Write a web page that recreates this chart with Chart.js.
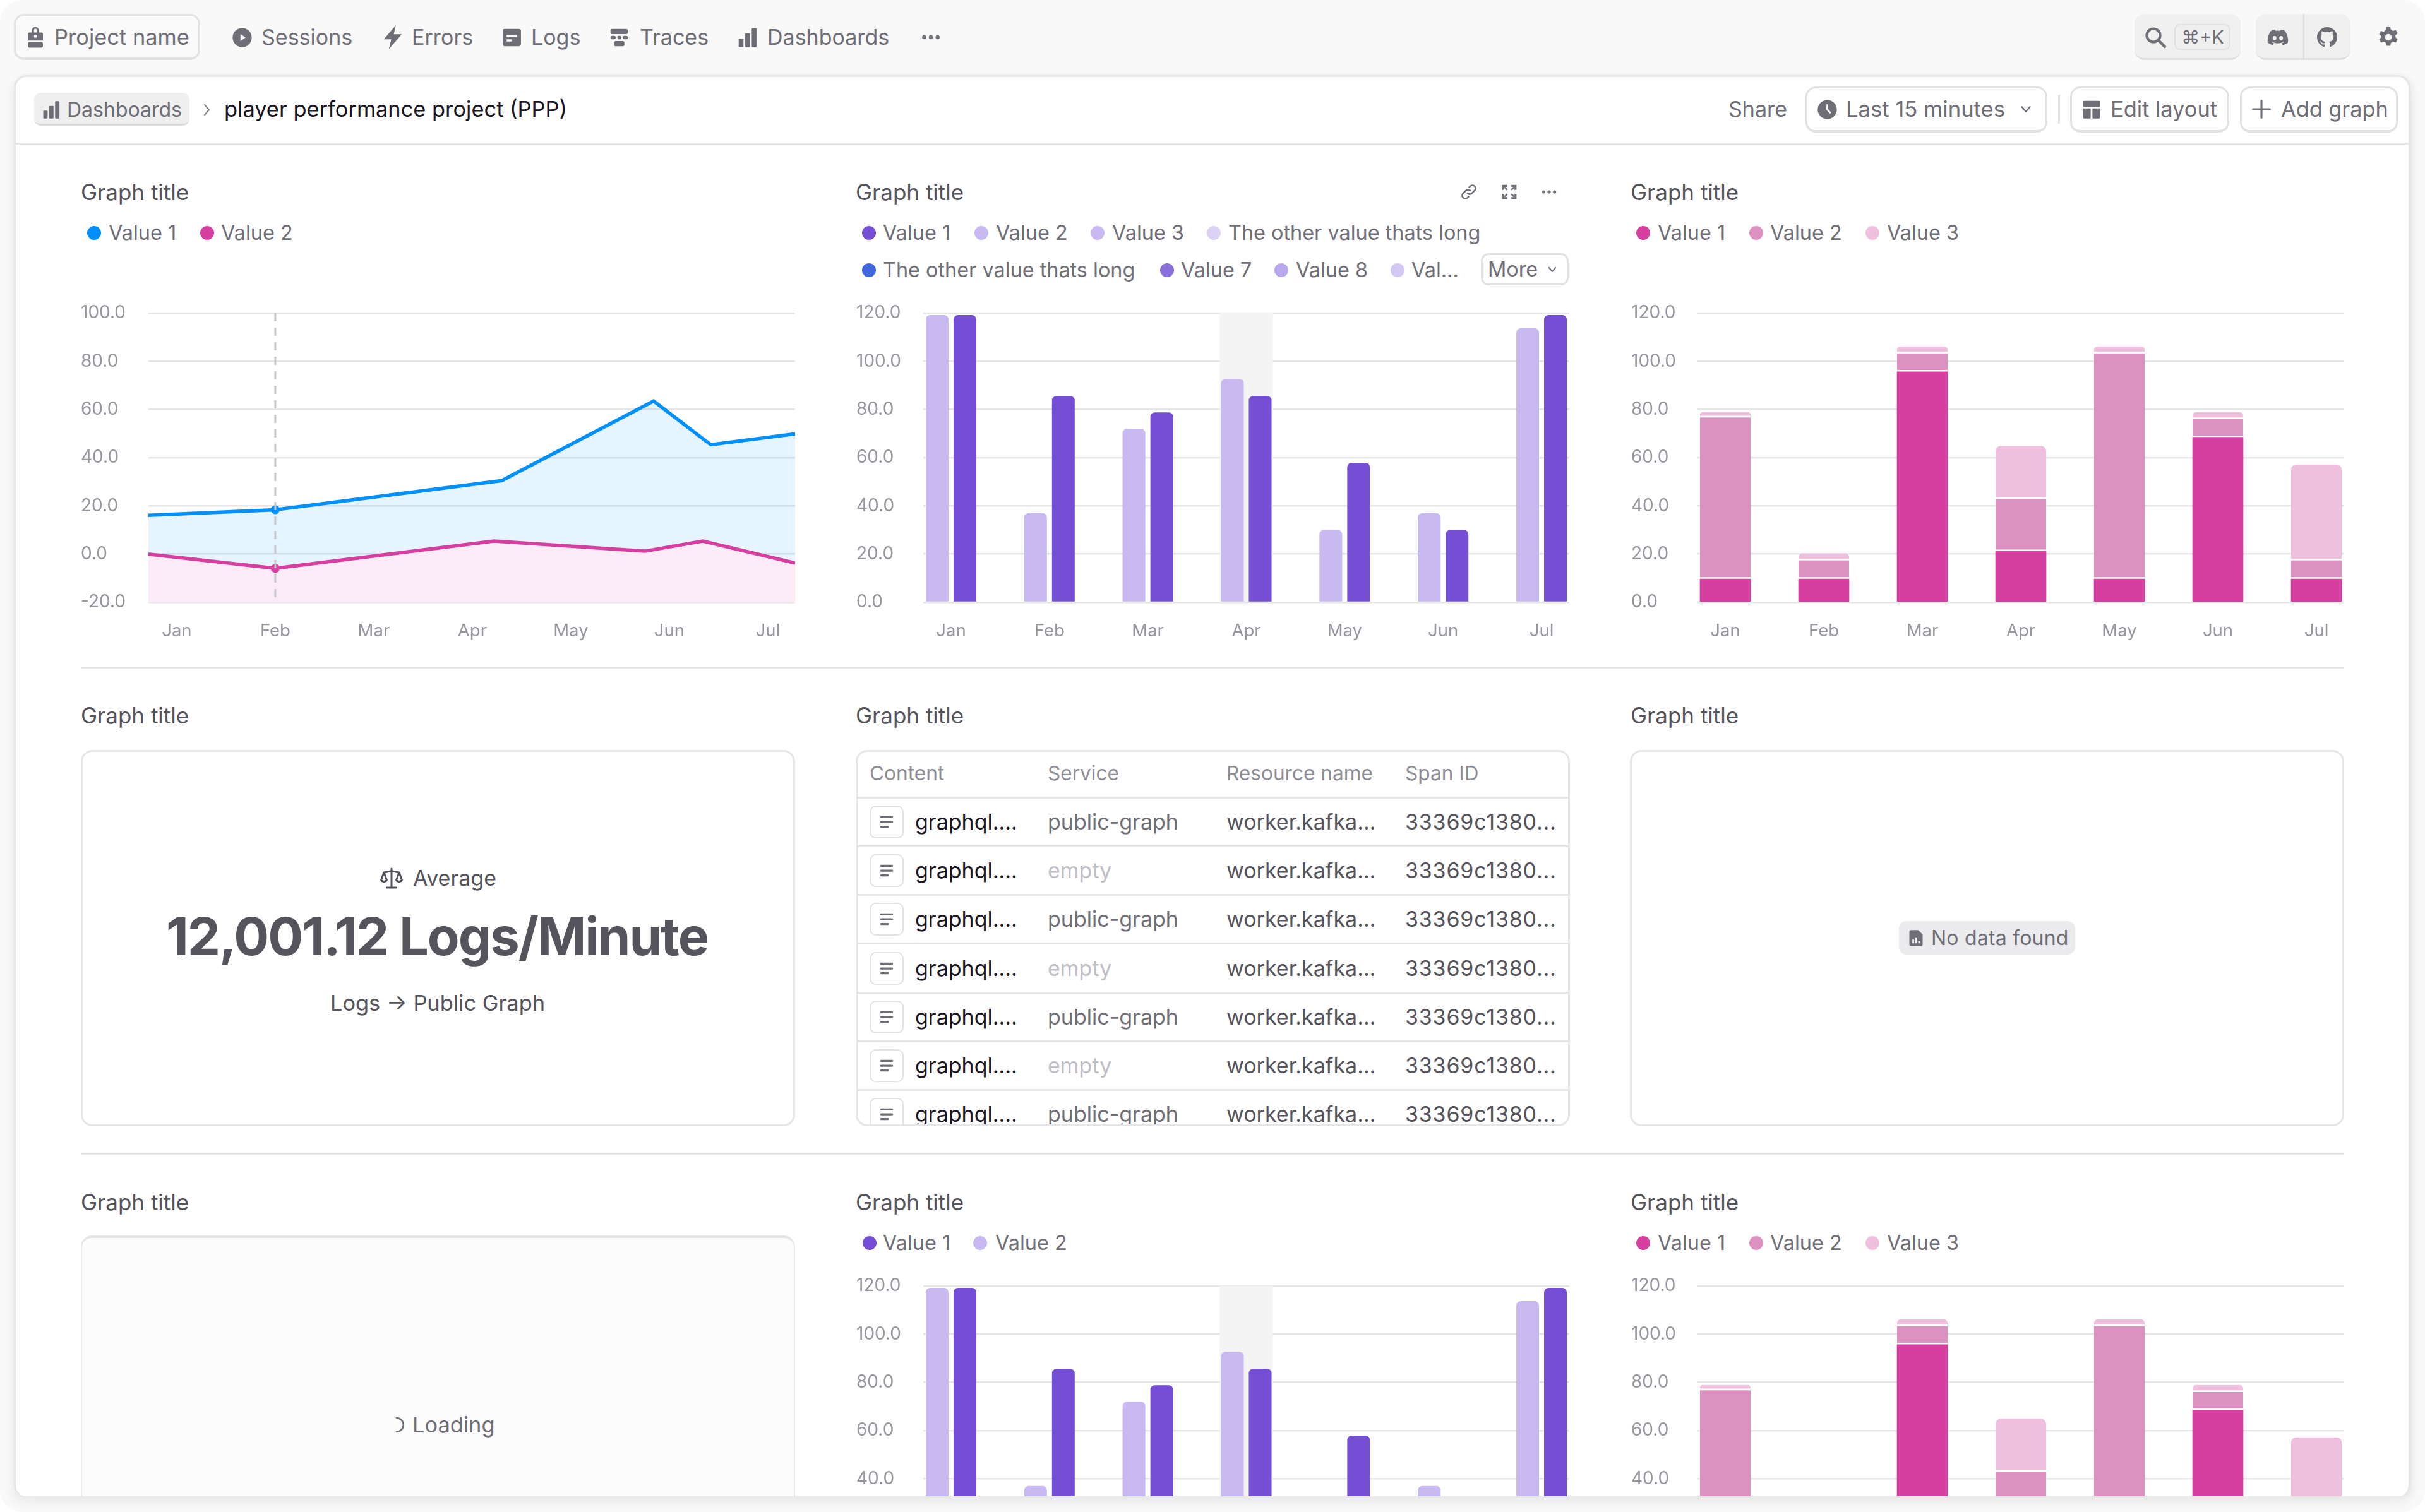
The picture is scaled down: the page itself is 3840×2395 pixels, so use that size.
<!DOCTYPE html>
<html><head><meta charset="utf-8">
<script src="https://cdn.jsdelivr.net/npm/chart.js@4"></script>
<style>
html,body{margin:0;padding:0;width:3840px;height:2395px;background:#fff;overflow:hidden;font-family:Inter,"Noto Sans",sans-serif}
.a{position:absolute;box-sizing:border-box}
.t{position:absolute;white-space:nowrap;transform:translateY(-50%);line-height:1.2}
canvas{position:absolute;display:block}
svg{position:absolute;overflow:visible}
</style></head><body>
<div id="root" class="a" style="left:0;top:0;width:3840px;height:2395px"></div>
<script>
// ---------- data ----------
const categories=['Jan','Feb','Mar','Apr','May','Jun','Jul'];
const lineTicks=[-20,0,20,40,60,80,100];
const barTicks=[0,20,40,60,80,100,120];
const blueX=[-0.288,1,3.30,4.84,5.42,6.276];
const blueY=[16.1,18.4,30.5,63.5,45.4,49.9];
const pinkX=[-0.288,1,3.22,4.75,5.34,6.276];
const pinkY=[0,-5.9,5.4,1.2,5.4,-3.7];
const purpleLight=[119.2,37,72,92.7,30,37,113.7];
const purpleDark=[119.2,85.6,78.8,85.6,57.9,30,119.2];
const stackA=[9.7,9.7,95.7,21.2,9.7,68.5,9.7];
const stackB=[67,7.7,7.6,21.8,93.6,7.5,7.7];
const stackC=[2.2,2.9,2.9,21.9,2.9,2.9,39.8];
const tableHead=['Content','Service','Resource name','Span ID'];
const tableService=['public-graph','empty','public-graph','empty','public-graph','empty','public-graph'];
const navItems=['Sessions','Errors','Logs','Traces','Dashboards'];

// ---------- palette ----------
const C={grid:'#e6e6e8',tick:'#96969e',nav:'#6f6e77',title:'#55545c',black:'#1a1523',border:'#e4e4e6',
 blue:'#0090ff',pink:'#d63f9f',pinkMid:'#dc92c0',pinkLight:'#eec0de',purple:'#744ed4',purpleL:'#c8b9f1'};

// ---------- DOM helpers ----------
const root=document.getElementById('root');
let cur={el:root,ox:0,oy:0};
function box(x,y,w,h,css){const d=document.createElement('div');d.className='a';
 d.style.cssText=`left:${x-cur.ox}px;top:${y-cur.oy}px;width:${w}px;height:${h}px;`+(css||'');cur.el.appendChild(d);return d;}
function txt(s,x,y,size,color,opt){opt=opt||{};const d=document.createElement('span');d.className='t';d.textContent=s;
 let st=`left:${x-cur.ox}px;top:${y-cur.oy}px;font-size:${size}px;color:${color};font-weight:${opt.w||400};`;
 if(opt.c)st+='transform:translate(-50%,-50%);';
 if(opt.ls)st+=`letter-spacing:${opt.ls}px;`;
 d.style.cssText=st;cur.el.appendChild(d);return d;}
function within(el,ox,oy,fn){const p=cur;cur={el,ox,oy};fn();cur=p;}
function icon(inner,cx,cy,size,color,vb){const ns='http://www.w3.org/2000/svg';const s=document.createElementNS(ns,'svg');
 s.setAttribute('viewBox',vb||'0 0 24 24');s.setAttribute('width',size);s.setAttribute('height',size);
 s.style.left=(cx-size/2-cur.ox)+'px';s.style.top=(cy-size/2-cur.oy)+'px';s.style.color=color;
 s.innerHTML=inner;cur.el.appendChild(s);return s;}
const I={
 brief:'<path fill="currentColor" d="M8.500 7V4.500a3.500 3.500 0 0 1 7 0V7h2.500a2 2 0 0 1 2 2v6.500H4V9a2 2 0 0 1 2-2zm2 0h3V4.500a1.500 1.500 0 0 0-3 0z"/><circle cx="12" cy="11" r="1.600" fill="#fafafa"/><rect x="4" y="17" width="16" height="6" rx="2" fill="currentColor"/>',
 play:'<path fill="currentColor" fill-rule="evenodd" d="M12 1a11 11 0 1 0 0 22 11 11 0 0 0 0-22zM10 8l6 4-6 4z"/>',
 bolt:'<path fill="currentColor" d="M15 0 3 14h7.500L8 24l13-15h-8z"/>',
 logs:'<path fill="currentColor" fill-rule="evenodd" d="M4 2h16a2.500 2.500 0 0 1 2.500 2.500v15A2.500 2.500 0 0 1 20 22H4a2.500 2.500 0 0 1-2.500-2.500v-15A2.500 2.500 0 0 1 4 2zm2 7v2.500h12V9zm0 5v2.500h6V14z"/>',
 traces:'<rect x="2" y="2" width="20" height="6" rx="2" fill="currentColor"/><rect x="2" y="10" width="6" height="4" rx="2" fill="currentColor"/><rect x="10" y="10" width="4" height="4" rx="1" fill="currentColor"/><rect x="16" y="10" width="6" height="4" rx="2" fill="currentColor"/><rect x="6" y="16" width="12" height="6" rx="2" fill="currentColor"/>',
 bars:'<rect x="2" y="13" width="5.500" height="10" rx="1" fill="currentColor"/><rect x="9.500" y="7" width="5.500" height="16" rx="1" fill="currentColor"/><rect x="17" y="1" width="5.500" height="22" rx="1" fill="currentColor"/>',
 dots:'<circle cx="4" cy="12" r="2.400" fill="currentColor"/><circle cx="12" cy="12" r="2.400" fill="currentColor"/><circle cx="20" cy="12" r="2.400" fill="currentColor"/>',
 chevR:'<path fill="none" stroke="currentColor" stroke-width="2" stroke-linecap="round" stroke-linejoin="round" d="M9 4l7 8-7 8"/>',
 chevD:'<path fill="none" stroke="currentColor" stroke-width="2.600" stroke-linecap="round" stroke-linejoin="round" d="M5 8l7 8 7-8"/>',
 search:'<circle cx="10" cy="10" r="7" fill="none" stroke="currentColor" stroke-width="2.800"/><path d="M15.500 15.500 22 22" stroke="currentColor" stroke-width="3" stroke-linecap="round"/>',
 clock:'<path fill="currentColor" fill-rule="evenodd" d="M12 1a11 11 0 1 0 0 22 11 11 0 0 0 0-22zM11 6h2v5.500l3.500 4-1.500 1.400-4-4.500z"/>',
 layout:'<rect x="2" y="2" width="20" height="7" rx="1" fill="currentColor"/><rect x="2" y="11" width="9" height="12" rx="1" fill="currentColor"/><rect x="13" y="11" width="9" height="12" rx="1" fill="currentColor"/>',
 plus:'<path d="M12 2v20M2 12h20" stroke="currentColor" stroke-width="2.400" stroke-linecap="round"/>',
 discord:'<path fill="currentColor" fill-rule="evenodd" d="M19.500 5.300A18 18 0 0 0 15 4l-.6 1.200a16 16 0 0 0-4.800 0L9 4a18 18 0 0 0-4.500 1.300C1.700 9.500.9 13.600 1.300 17.600A18 18 0 0 0 6.800 20.400l1.200-1.900-1.800-.9.400-.4a12.800 12.800 0 0 0 10.800 0l.4.4-1.800.9 1.200 1.900a18 18 0 0 0 5.500-2.800c.5-4.600-.7-8.700-3.200-12.300zM8.500 15a2 2.200 0 1 1 0-4.400 2 2.200 0 0 1 0 4.400zm7 0a2 2.200 0 1 1 0-4.400 2 2.200 0 0 1 0 4.400z"/>',
 github:'<path fill="currentColor" fill-rule="evenodd" d="M8 0C3.580 0 0 3.580 0 8c0 3.540 2.290 6.530 5.470 7.590.4.070.550-.170.550-.380 0-.190-.010-.820-.010-1.490-2.010.370-2.530-.490-2.690-.940-.090-.230-.480-.940-.820-1.130-.280-.150-.680-.520-.010-.530.630-.010 1.080.580 1.230.820.720 1.210 1.870.870 2.330.660.070-.520.280-.870.510-1.070-1.780-.200-3.640-.890-3.640-3.950 0-.870.310-1.590.820-2.150-.080-.200-.360-1.020.080-2.120 0 0 .670-.210 2.200.820.640-.180 1.320-.270 2-.270.680 0 1.360.090 2 .270 1.530-1.040 2.200-.820 2.200-.820.440 1.100.160 1.920.080 2.120.510.560.820 1.270.820 2.150 0 3.070-1.870 3.750-3.650 3.950.290.250.540.730.540 1.480 0 1.070-.010 1.930-.010 2.200 0 .210.150.460.550.380A8.013 8.013 0 0 0 16 8c0-4.420-3.580-8-8-8z"/>',
 gear:'<path fill="currentColor" fill-rule="evenodd" d="M10 1h4l.6 3 2.300 1.300 2.900-1 2 3.500-2.300 2 .1 2.400 2.200 2-2 3.500-2.900-1-2.300 1.300-.6 3h-4l-.6-3-2.300-1.300-2.900 1-2-3.500 2.300-2V10.800l-2.300-2 2-3.500 2.900 1L9.400 4zM12 8.500a3.500 3.500 0 1 0 0 7 3.500 3.500 0 0 0 0-7z"/>',
 link:'<path fill="none" stroke="currentColor" stroke-width="2.400" stroke-linecap="round" d="M10 14a4.500 4.500 0 0 0 6.400 0l4-4A4.500 4.500 0 0 0 14 3.600l-1.500 1.500M14 10a4.500 4.500 0 0 0-6.400 0l-4 4A4.500 4.500 0 0 0 10 20.400l1.500-1.500"/>',
 expand:'<path fill="none" stroke="currentColor" stroke-width="3" d="M3 9V3h6M15 3h6v6M21 15v6h-6M9 21H3v-6"/><path d="M5 5l4 4M19 5l-4 4M19 19l-4-4M5 19l4-4" stroke="currentColor" stroke-width="2.400"/>',
 scale:'<path fill="none" stroke="currentColor" stroke-width="2" stroke-linecap="round" stroke-linejoin="round" d="M12 2v19M7 22h10M4 6l8-1.500L20 6M4 6l-3 8a3.500 3.500 0 0 0 6 0zM20 6l-3 8a3.500 3.500 0 0 0 6 0z"/>',
 file:'<path fill="currentColor" fill-rule="evenodd" d="M5 1h10l6 6v14a2 2 0 0 1-2 2H5a2 2 0 0 1-2-2V3a2 2 0 0 1 2-2zm2 13v5h2.500v-5zm4-3v8h2.500v-8zm4 5v3h2.500v-3z"/>',
 lines:'<path d="M4 5h16M4 12h16M4 19h10" stroke="currentColor" stroke-width="3" stroke-linecap="round"/>',
 spin:'<path fill="none" stroke="currentColor" stroke-width="2.400" stroke-linecap="round" d="M12 2a10 10 0 0 1 0 20"/>'
};

// ---------- shell ----------
box(0,0,3840,2395,'background:#f9f9f9;border-radius:34px');
// nav
box(22,22,295,73,'background:#fafafa;border:3px solid #e2e2e4;border-bottom-width:4px;border-radius:16px');
icon(I.brief,56,59,36,C.nav);
txt('Project name',86,59,34.4,C.nav);
const navX=[414,652,841,1013,1215],navIcon=[[383,I.play],[622,I.bolt],[810,I.logs],[980,I.traces],[1183,I.bars]];
navItems.forEach((n,i)=>{icon(navIcon[i][1],navIcon[i][0],59,i===1?38:33,C.nav);txt(n,navX[i],59,34,C.nav);});
icon(I.dots,1474,59,32,C.nav);
box(3380,22,168,73,'background:#f0f0f1;border-bottom:3px solid #dcdcde;border-radius:16px');
icon(I.search,3413,59,36,C.nav);
box(3443,38,89,41,'border:2.500px solid #e0e0e2;border-radius:9px;background:#efeff0');
txt('⌘+K',3488,59,29,C.nav,{c:1});
box(3572,22,150,73,'background:#f0f0f1;border-bottom:3px solid #dcdcde;border-radius:16px');
box(3647,22,2,73,'background:#dcdcde');
icon(I.discord,3607,59,36,C.nav);
icon(I.github,3685,59,32,C.nav,'0 0 16 16');
icon(I.gear,3782,59,36,C.nav);
// frame
box(22,119,3795,2251,'background:#fff;border:3px solid #e6e6e8;border-bottom:none;border-radius:20px 20px 18px 18px;box-shadow:0 8px 18px rgba(40,40,60,.09),3px 0 8px rgba(40,40,60,.03)');
const clip=box(0,0,3840,2370,'overflow:hidden');
cur={el:clip,ox:0,oy:0};
// header
box(25,226,3789,3,'background:#e6e6e8');
box(54,147,246,52,'background:#efeff0;border-bottom:3px solid #dcdcde;border-radius:10px');
icon(I.bars,81,174,30,C.nav);
txt('Dashboards',106,174,32,C.nav);
icon(I.chevR,327,174,24,'#85848c');
txt('player performance project (PPP)',355,173,34.4,C.black);
txt('Share',2737,173,34,C.nav);
function btn(x,w){box(x,137,w,73,'background:#fff;border:3px solid #e2e2e4;border-bottom-width:4px;border-radius:16px');}
btn(2859,383);icon(I.clock,2893,173,33,C.nav);txt('Last 15 minutes',2923,173,34.6,C.nav);icon(I.chevD,3208,173,22,C.nav);
box(3259,150,3,46,'background:#e4e4e6');
btn(3278,252);icon(I.layout,3312,173,32,C.nav);txt('Edit layout',3342,173,34.4,C.nav);
btn(3547,250);icon(I.plus,3581,173,32,C.nav);txt('Add graph',3612,173,34.3,C.nav);
// dividers
box(128,1056,3584,3,'background:#e6e6e8');
box(128,1827,3584,3,'background:#e6e6e8');
// titles
[[128,304],[1355,304],[2582,304],[128,1133],[1355,1133],[2582,1133],[128,1904],[1355,1904],[2582,1904]].forEach(p=>txt('Graph title',p[0],p[1],35,C.title));
// legends
function leg(items,y){items.forEach(it=>{const d=box(it[0]-11,y-11,22,22,`background:${it[2]};border-radius:50%`);txt(it[3],it[1],y,32.4,'#706f78');});}
leg([[149,172,C.blue,'Value 1'],[327.5,350,C.pink,'Value 2']],369);
leg([[1376,1398,C.purple,'Value 1'],[1554,1577,C.purpleL,'Value 2'],[1738,1761,C.purpleL,'Value 3'],[1922,1945,'#dcd2f6','The other value thats long']],369);
leg([[1376,1398,'#4266e0','The other value thats long'],[1848,1870,'#8a70dc','Value 7'],[2029,2052,'#b9a8ee','Value 8'],[2213,2235,'#d3c8f4','Val...']],428);
leg([[2602,2625,C.pink,'Value 1'],[2781,2803,C.pinkMid,'Value 2'],[2965,2988,C.pinkLight,'Value 3']],369);
leg([[1377,1398,C.purple,'Value 1'],[1552,1576,C.purpleL,'Value 2']],1969);
leg([[2602,2625,C.pink,'Value 1'],[2781,2803,C.pinkMid,'Value 2'],[2965,2988,C.pinkLight,'Value 3']],1969);
box(2345,401,139,51,'background:#fff;border:3px solid #e2e2e4;border-radius:12px');
txt('More',2356,427,32.4,'#706f78');icon(I.chevD,2458,427,18,C.nav);
icon(I.link,2326,304,26,C.nav);icon(I.expand,2390,304,26,C.nav);icon(I.dots,2453,304,26,C.nav);
// metric card
const card='border:3px solid #e6e6e8;border-radius:18px;';
box(128,1188,1131,596,card+'background:#fff');
icon(I.scale,620,1391,36,C.title);
txt('Average',654,1391,34,C.title);
txt('12,001.12 Logs/Minute',692,1484,83,C.title,{c:1,w:700,ls:-2});
txt('Logs → Public Graph',693,1589,34.4,C.title,{c:1});
// table
const tb=box(1355,1188,1131,596,card+'background:#fff;overflow:hidden');
within(tb,1358,1191,()=>{
 const colX=[1377,1659,1942,2225];
 tableHead.forEach((h,i)=>txt(h,colX[i],1225,31.6,'#8e8d96'));
 box(1355,1262,1131,3,'background:#e6e6e8');
 const rowY=[1302,1379,1456,1534,1611,1688,1765];
 rowY.forEach((y,i)=>{
  box(1377,y-26,54,52,'border:2.500px solid #e2e2e4;border-radius:10px;background:#fff');
  icon(I.lines,1404,y,26,C.nav);
  txt('graphql....',1449,y,34,C.black);
  txt(tableService[i],1659,y,34,tableService[i]==='empty'?'#c0bfc5':'#6f6e77');
  txt('worker.kafka...',1942,y,34,'#55545c');
  txt('33369c1380...',2225,y,34,'#55545c',{ls:.8});
  if(i<6)box(1355,y+37,1131,3,'background:#e6e6e8');
 });
});
// empty card
box(2581,1188,1131,596,card+'background:#fff');
box(3007,1459,279,53,'background:#ebebed;border-radius:12px');
icon(I.file,3034,1486,28,C.nav);
txt('No data found',3058,1486,32,'#6f6e77',{ls:.2});
// loading card
box(128,1957,1131,700,'border:2px solid #e6e6e8;border-top:4px solid #e6e6e8;border-radius:18px;background:#fcfcfc');
icon(I.spin,628,2257,26,C.nav);
txt('Loading',653,2257,34.4,C.nav);

// ---------- charts ----------
const XMIN=-0.282,XMAX=6.282;
const hold=document.createElement('div');
clip.appendChild(hold);
function xScale(){return{type:'linear',min:XMIN,max:XMAX,offset:false,bounds:'data',
 afterBuildTicks:s=>{s.ticks=categories.map((c,i)=>({value:i}));},
 afterFit:s=>{s.height=66;s.paddingLeft=0;s.paddingRight=0;},
 grid:{display:false,offset:false,drawTicks:false},border:{display:false},
 ticks:{autoSkip:false,maxRotation:0,padding:29,font:{family:'Inter',size:27.5},color:C.tick,callback:v=>categories[v]}};}
function yScale(ticks,w,stacked){return{min:ticks[0],max:ticks[ticks.length-1],stacked:!!stacked,
 afterFit:s=>{s.width=w;},
 afterBuildTicks:s=>{s.ticks=ticks.map(v=>({value:v}));},
 grid:{color:C.grid,lineWidth:2.5,drawTicks:false},border:{display:false},
 ticks:{crossAlign:'far',font:{family:'Inter',size:28},color:C.tick,callback:v=>Number(v).toFixed(1)}};}
function mount(x,y,w,h,cfg){const c=document.createElement('canvas');c.width=w;c.height=h;
 c.style.cssText=`left:${x}px;top:${y}px;width:${w}px;height:${h}px`;hold.appendChild(c);
 cfg.options=Object.assign({responsive:false,animation:false,devicePixelRatio:1,
  layout:{padding:{top:26,left:0,right:0,bottom:0}},
  plugins:{legend:{display:false},tooltip:{enabled:false}}},cfg.options);
 return new Chart(c,cfg);}
const hoverBand={id:'hoverBand',beforeDatasetsDraw(ch){const s=ch.scales.x,p=s.getPixelForValue(3),a=ch.chartArea,g=ch.ctx;
 g.save();g.fillStyle='#f4f4f4';g.fillRect(p-42,a.top,84,a.bottom-a.top);g.restore();}};
const crosshair={id:'crosshair',afterDatasetsDraw(ch){const p=ch.scales.x.getPixelForValue(1),a=ch.chartArea,g=ch.ctx;
 g.save();g.strokeStyle='#c6c6ca';g.lineWidth=3;g.setLineDash([13,10]);g.beginPath();g.moveTo(p,a.top);g.lineTo(p,a.bottom);g.stroke();g.restore();}};
const pts=(xs,ys)=>ys.map((y,i)=>({x:xs[i],y}));
const seq=ys=>ys.map((y,i)=>({x:i,y}));
function purpleChart(x,y){return mount(x,y,1129,550,{type:'bar',plugins:[hoverBand],
 data:{datasets:[
  {label:'Value 2',data:seq(purpleLight),backgroundColor:C.purpleL,borderRadius:{topLeft:7,topRight:7},borderSkipped:'bottom'},
  {label:'Value 1',data:seq(purpleDark),backgroundColor:C.purple,borderRadius:{topLeft:7,topRight:7},borderSkipped:'bottom'}]},
 options:{datasets:{bar:{categoryPercentage:.5645,barPercentage:.818}},scales:{x:xScale(),y:yScale(barTicks,106)}}});}
function pinkChart(x,y){const sep={top:0,left:0,right:0,bottom:3};return mount(x,y,1129,550,{type:'bar',
 data:{datasets:[
  {label:'Value 1',data:seq(stackA),backgroundColor:C.pink,borderWidth:0},
  {label:'Value 2',data:seq(stackB),backgroundColor:C.pinkMid,borderColor:'#fff',borderWidth:sep,borderSkipped:false},
  {label:'Value 3',data:seq(stackC),backgroundColor:C.pinkLight,borderColor:'#fff',borderWidth:sep,borderSkipped:false,borderRadius:{topLeft:8,topRight:8}}]},
 options:{datasets:{bar:{barThickness:80}},scales:{x:Object.assign(xScale(),{stacked:true}),y:yScale(barTicks,105,true)}}});}
// line chart
mount(128,470,1131,550,{type:'line',plugins:[crosshair],
 data:{datasets:[
  {label:'Value 2',order:0,data:pts(pinkX,pinkY),borderColor:C.pink,backgroundColor:'#fbebf6',borderWidth:5.5,fill:'start',tension:0,
   pointRadius:pinkY.map((v,i)=>i===1?7:0),pointBackgroundColor:C.pink,pointBorderWidth:0},
  {label:'Value 1',order:1,data:pts(blueX,blueY),borderColor:C.blue,backgroundColor:'rgba(0,144,255,.1)',borderWidth:5.5,fill:'start',tension:0,
   pointRadius:blueY.map((v,i)=>i===1?7:0),pointBackgroundColor:C.blue,pointBorderWidth:0}]},
 options:{scales:{x:Object.assign(xScale(),{min:-0.288,max:6.276}),y:yScale(lineTicks,107)}}});
purpleChart(1356,470);
pinkChart(2583,470);
purpleChart(1356,2011);
pinkChart(2583,2011);
</script>
</body></html>
